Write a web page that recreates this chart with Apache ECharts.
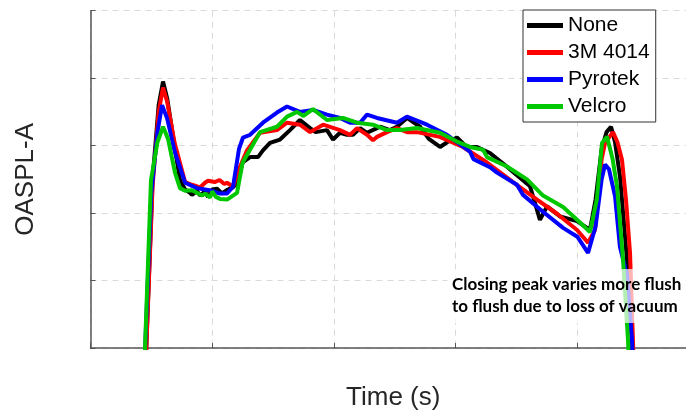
<!DOCTYPE html>
<html>
<head>
    <meta charset="utf-8">
    <title>OASPL-A</title>
    <script src="https://cdn.jsdelivr.net/npm/echarts@6/dist/echarts.min.js"></script>
    <style>
        html, body { margin: 0; padding: 0; background: #fff; }
        #myChart { width: 686px; height: 412px; }
    </style>
</head>
<body>
<div id="myChart"></div>
<script>
    // 图例名称
    let seriesNames = ['None', '3M 4014', 'Pyrotek', 'Velcro']
    let seriesColors = ['#000000', '#ff0000', '#0000ff', '#00c800']

    // [time, OASPL-A]
    let noneData = [
        [0.45, 46], [0.51, 75], [0.56, 86], [0.596, 89.5], [0.63, 87], [0.69, 80], [0.735, 74.9],
        [0.777, 73.5], [0.818, 73.0], [0.834, 72.7], [0.875, 73.3], [0.90, 72.6], [0.94, 73.2],
        [0.966, 72.4], [1.0, 73.5], [1.04, 73.6], [1.08, 72.9], [1.12, 73.4], [1.17, 73.8],
        [1.204, 74.4], [1.25, 77.5], [1.311, 78.3], [1.376, 78.3], [1.417, 79.3], [1.475, 80.4],
        [1.557, 80.9], [1.639, 82.3], [1.721, 83.8], [1.804, 82.6], [1.85, 82.0], [1.943, 82.3],
        [1.993, 80.9], [2.05, 81.9], [2.108, 81.6], [2.157, 81.6], [2.215, 82.6], [2.272, 81.9],
        [2.354, 82.6], [2.379, 82.8], [2.46, 82.3], [2.518, 82.8], [2.601, 84.1], [2.708, 82.8],
        [2.78, 81.0], [2.872, 79.8], [2.93, 80.5], [3.011, 81.2], [3.09, 79.8], [3.175, 79.8],
        [3.282, 78.9], [3.40, 77.2], [3.472, 76.1], [3.611, 74.0], [3.693, 69.0], [3.751, 71.0],
        [3.858, 69.5], [3.998, 68.8], [4.104, 67.5], [4.15, 72], [4.20, 79.5], [4.24, 82],
        [4.277, 82.8], [4.31, 80.5], [4.351, 75.4], [4.408, 63.1], [4.45, 50.7], [4.46, 46]
    ]
    let mmData = [
        [0.45, 46], [0.51, 74], [0.56, 85], [0.596, 88.6], [0.63, 86.5], [0.69, 80.5], [0.777, 74.6],
        [0.834, 74.2], [0.90, 73.8], [0.941, 74.5], [0.966, 74.8], [1.02, 74.6], [1.06, 74.9],
        [1.10, 74.3], [1.122, 74.5], [1.171, 73.9], [1.22, 76.5], [1.286, 79.3], [1.393, 81.9],
        [1.532, 82.3], [1.615, 83.4], [1.721, 83.1], [1.804, 82.0], [1.911, 83.1], [2.05, 82.3],
        [2.132, 81.6], [2.19, 82.6], [2.272, 81.6], [2.321, 80.8], [2.354, 81.3], [2.436, 82.0],
        [2.518, 82.6], [2.601, 82.0], [2.683, 82.0], [2.87, 81.3], [3.06, 79.8], [3.258, 77.5],
        [3.472, 74.6], [3.669, 72.0], [3.833, 69.9], [3.998, 67.5], [4.088, 65.6], [4.145, 67.5],
        [4.20, 78], [4.228, 80.4], [4.293, 82.0], [4.33, 80.5], [4.367, 77.9], [4.40, 72],
        [4.433, 64.1], [4.458, 50.7], [4.465, 46]
    ]
    let pyrotekData = [
        [0.44, 46], [0.50, 73], [0.55, 82], [0.588, 86.0], [0.63, 84], [0.694, 79], [0.777, 74.5],
        [0.875, 73.7], [0.94, 73.5], [1.0, 73.3], [1.064, 72.9], [1.122, 72.9], [1.171, 73.9],
        [1.22, 79.5], [1.253, 81.2], [1.311, 81.6], [1.417, 83.4], [1.532, 84.9], [1.615, 85.8],
        [1.721, 85.0], [1.828, 85.3], [1.943, 84.6], [2.05, 84.1], [2.132, 83.4], [2.215, 83.4],
        [2.272, 84.6], [2.354, 84.1], [2.518, 83.4], [2.60, 84.3], [2.765, 83.1], [2.929, 81.6],
        [3.011, 80.5], [3.118, 79.1], [3.147, 78.0], [3.282, 76.8], [3.34, 76.0], [3.504, 74.2],
        [3.554, 72.7], [3.718, 70.2], [3.883, 67.8], [4.0, 66.5], [4.088, 64.1], [4.15, 68],
        [4.20, 75], [4.228, 77.2], [4.26, 76.5], [4.31, 72.5], [4.35, 65], [4.408, 60.8],
        [4.45, 51], [4.458, 46]
    ]
    let velcroData = [
        [0.44, 46], [0.497, 74.9], [0.55, 80.5], [0.596, 82.8], [0.637, 81], [0.694, 76], [0.735, 73.7],
        [0.777, 73.3], [0.834, 73.4], [0.875, 73.0], [0.92, 72.6], [0.941, 72.9], [0.982, 72.3],
        [1.00, 73.2], [1.03, 72.4], [1.064, 72.1], [1.122, 72.0], [1.171, 72.6], [1.204, 73.0],
        [1.25, 77.5], [1.311, 79.4], [1.393, 82.0], [1.532, 82.8], [1.615, 84.3], [1.697, 85.0],
        [1.75, 84.4], [1.828, 85.4], [1.943, 83.8], [2.075, 84.1], [2.19, 83.4], [2.321, 83.1],
        [2.436, 82.3], [2.543, 82.3], [2.683, 82.6], [2.872, 81.9], [3.011, 80.6], [3.118, 79.8],
        [3.225, 79.4], [3.258, 78.3], [3.422, 76.9], [3.587, 75.0], [3.718, 72.6], [3.883, 70.9],
        [3.998, 69.0], [4.104, 67.2], [4.16, 72], [4.203, 80.4], [4.244, 81.3], [4.29, 78],
        [4.326, 74.0], [4.375, 63.3], [4.417, 51], [4.425, 46]
    ]
    let allData = [noneData, mmData, pyrotekData, velcroData]

    let noteLines = ['Closing peak varies more flush', 'to flush due to loss of vacuum']

    let options = {
        animation: false,
        backgroundColor: '#fff',
        grid: {
            left: 90.5,
            right: 0,
            top: 10.7,
            bottom: 64,
            outerBoundsMode: 'none'
        },
        legend: {
            data: seriesNames,
            orient: 'vertical',
            left: 523,
            top: 10,
            padding: [5, 6, 5, 4],
            itemGap: 6,
            itemWidth: 36,
            itemHeight: 5,
            icon: 'rect',
            borderColor: '#333',
            borderWidth: 1,
            backgroundColor: '#fff',
            textStyle: {
                fontFamily: 'Liberation Sans',
                fontSize: 21,
                lineHeight: 20,
                color: '#000'
            }
        },
        xAxis: {
            type: 'value',
            min: 0,
            max: 4.893,
            interval: 1,
            name: 'Time (s)',
            nameLocation: 'middle',
            nameGap: 37,
            nameTextStyle: {
                fontFamily: 'Liberation Sans',
                fontSize: 26,
                color: '#262626',
                padding: [0, 0, 0, 10]
            },
            axisLine: { lineStyle: { color: '#555', width: 1.5 } },
            axisTick: { inside: true, length: 5, lineStyle: { color: '#555' } },
            axisLabel: { show: false },
            splitLine: { show: true, lineStyle: { color: '#dadada', type: [6, 5] } }
        },
        yAxis: {
            type: 'value',
            min: 50,
            max: 100,
            interval: 10,
            name: 'OASPL-A',
            nameLocation: 'middle',
            nameGap: 52,
            nameTextStyle: {
                fontFamily: 'Liberation Sans',
                fontSize: 26,
                color: '#262626'
            },
            axisLine: { show: true, lineStyle: { color: '#555', width: 1.5 } },
            axisTick: { show: true, inside: true, length: 5, lineStyle: { color: '#555' } },
            axisLabel: { show: false },
            splitLine: { show: true, lineStyle: { color: '#dadada', type: [6, 5] } }
        },
        series: seriesNames.map((name, i) => ({
            name: name,
            type: 'line',
            data: allData[i],
            showSymbol: false,
            symbol: 'none',
            clip: true,
            color: seriesColors[i],
            lineStyle: { width: 4, color: seriesColors[i] },
            z: 2 + i
        })),
        graphic: [{
            type: 'rect',
            left: 447,
            top: 269,
            shape: { width: 245, height: 54 },
            style: { fill: 'rgba(255,255,255,0.7)' },
            z: 50
        }, {
            type: 'text',
            left: 452,
            top: 274,
            style: {
                text: noteLines.join('\n'),
                fontFamily: 'Lato',
                fontWeight: 'bold',
                fontSize: 17,
                lineHeight: 22,
                fill: '#000'
            },
            z: 51
        }]
    }

    let myChart = echarts.init(document.getElementById('myChart'))
    myChart.setOption(options)
</script>
</body>
</html>
